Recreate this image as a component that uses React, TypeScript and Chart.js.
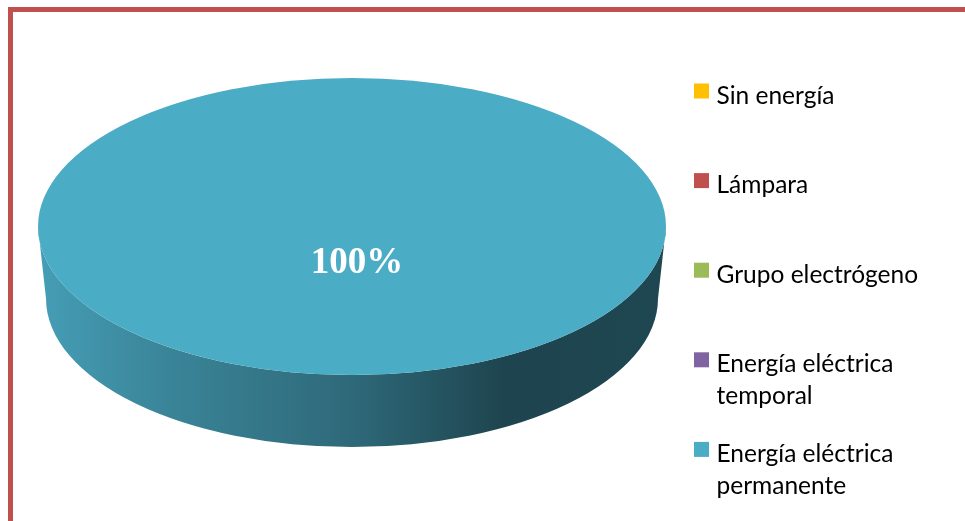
import React, { useEffect, useRef } from "react";
import { Chart, registerables } from "chart.js";

Chart.register(...registerables);

// ---- data ----
const categories = [
  "Sin energía",
  "Lámpara",
  "Grupo electrógeno",
  "Energía eléctrica temporal",
  "Energía eléctrica permanente",
];
const legendLines = [
  ["Sin energía"],
  ["Lámpara"],
  ["Grupo electrógeno"],
  ["Energía eléctrica", "temporal"],
  ["Energía eléctrica", "permanente"],
];
const values = [0, 0, 0, 0, 100];
const sliceColors = ["#FFC000", "#C0504D", "#9BBB59", "#8064A2", "#4BACC6"];

// ---- 3D look (style constants) ----
const STRETCH_X = 314 / 148.5; // horizontal stretch of the top ellipse
const BOTTOM_RX = 306 / 314; // bottom ellipse narrower (perspective)
const DEPTH = 72 / 148.5; // side depth relative to radius
const SIDE_STOPS: [number, number][] = [
  [0, 0.92],
  [0.19, 0.78],
  [0.5, 0.61],
  [0.74, 0.4],
  [1, 0.41],
];

function hexToRgb(hex: string) {
  const h = hex.replace("#", "");
  return [
    parseInt(h.slice(0, 2), 16),
    parseInt(h.slice(2, 4), 16),
    parseInt(h.slice(4, 6), 16),
  ];
}
function shade(hex: string, f: number) {
  const [r, g, b] = hexToRgb(hex);
  return `rgb(${Math.round(r * f)},${Math.round(g * f)},${Math.round(b * f)})`;
}

const pie3d = {
  id: "pie3d",
  beforeDatasetsDraw(chart: any) {
    const meta = chart.getDatasetMeta(0);
    const ctx: CanvasRenderingContext2D = chart.ctx;
    const colors = chart.data.datasets[0].backgroundColor as string[];
    const first = meta.data[0];
    if (!first) return;
    const { x: cx, y: cy, outerRadius: r } = first.getProps(
      ["x", "y", "outerRadius"],
      true
    );
    const rx = r * STRETCH_X;
    const ry = r;
    const rxb = rx * BOTTOM_RX;
    const cyb = cy + r * DEPTH;

    ctx.save();
    meta.data.forEach((arc: any, i: number) => {
      const { startAngle, endAngle } = arc.getProps(
        ["startAngle", "endAngle"],
        true
      );
      if (endAngle - startAngle <= 0) return;
      // intersect with the visible lower half [0, PI] (+ k*2PI)
      for (let k = -2; k <= 2; k++) {
        const lo = k * 2 * Math.PI;
        const a0 = Math.max(startAngle, lo);
        const a1 = Math.min(endAngle, lo + Math.PI);
        if (a1 - a0 <= 0) continue;
        const grad = ctx.createLinearGradient(cx - rx, 0, cx + rx, 0);
        SIDE_STOPS.forEach(([p, f]) => grad.addColorStop(p, shade(colors[i], f)));
        ctx.beginPath();
        ctx.ellipse(cx, cy, rx, ry, 0, a0, a1, false);
        ctx.ellipse(cx, cyb, rxb, ry, 0, a1, a0, true);
        ctx.closePath();
        ctx.fillStyle = grad;
        ctx.fill();
      }
    });
    ctx.restore();

    // stretch the library's circular pie into the top ellipse
    ctx.save();
    ctx.translate(cx, cy);
    ctx.scale(STRETCH_X, 1);
    ctx.translate(-cx, -cy);
  },
  afterDatasetsDraw(chart: any) {
    const ctx: CanvasRenderingContext2D = chart.ctx;
    ctx.restore();
    const meta = chart.getDatasetMeta(0);
    const data = chart.data.datasets[0].data as number[];
    const total = data.reduce((a, b) => a + b, 0);
    ctx.save();
    ctx.fillStyle = "#FFFFFF";
    ctx.font = "bold 37px 'Liberation Serif', 'Times New Roman', serif";
    ctx.textAlign = "center";
    ctx.textBaseline = "alphabetic";
    meta.data.forEach((arc: any, i: number) => {
      if (!data[i]) return;
      const { x, y, startAngle, endAngle, outerRadius } = arc.getProps(
        ["x", "y", "startAngle", "endAngle", "outerRadius"],
        true
      );
      const mid = (startAngle + endAngle) / 2;
      const dist = outerRadius * 0.31;
      const lx = x + Math.cos(mid) * dist * STRETCH_X + 5;
      const ly = y + Math.sin(mid) * dist;
      const pct = Math.round((data[i] / total) * 100) + "%";
      ctx.fillText(pct, lx, ly);
    });
    ctx.restore();
  },
};

const sideLegend = {
  id: "sideLegend",
  afterDraw(chart: any) {
    const ctx: CanvasRenderingContext2D = chart.ctx;
    const colors = chart.data.datasets[0].backgroundColor as string[];
    const boxX = chart.chartArea.right + 28;
    const firstBase = 103.5;
    const step = 89.6;
    const lineH = 32;
    ctx.save();
    ctx.font = "24.5px Lato, 'Noto Sans', sans-serif";
    ctx.textBaseline = "alphabetic";
    ctx.textAlign = "left";
    legendLines.forEach((lines, i) => {
      const base = firstBase + i * step;
      ctx.fillStyle = colors[i];
      ctx.fillRect(boxX, base - 20, 15, 15);
      ctx.fillStyle = "#000000";
      lines.forEach((t, j) => ctx.fillText(t, boxX + 22.5, base + j * lineH));
    });
    ctx.restore();
  },
};

export default function App() {
  const ref = useRef<HTMLCanvasElement | null>(null);

  useEffect(() => {
    if (!ref.current) return;
    const chart = new Chart(ref.current, {
      type: "pie",
      data: {
        labels: categories,
        datasets: [
          {
            data: values,
            backgroundColor: sliceColors,
            borderWidth: 0,
            hoverOffset: 0,
            offset: 0,
            clip: false as any,
          },
        ],
      },
      options: {
        responsive: false,
        animation: false,
        events: [],
        layout: {
          padding: { left: 38, top: 78, right: 299, bottom: 146 },
        },
        plugins: {
          legend: { display: false },
          tooltip: { enabled: false },
        },
      },
      plugins: [pie3d, sideLegend],
    });
    return () => chart.destroy();
  }, []);

  return (
    <div
      style={{
        position: "fixed",
        left: 0,
        top: 0,
        width: 965,
        height: 521,
        overflow: "hidden",
        background: "#FFFFFF",
      }}
    >
      <div
        style={{
          position: "absolute",
          left: 8,
          top: 7,
          width: 965,
          height: 521,
          borderTop: "5px solid #C0504D",
          borderLeft: "5px solid #C0504D",
          boxSizing: "border-box",
        }}
      />
      <canvas
        ref={ref}
        width={965}
        height={521}
        style={{ position: "absolute", left: 0, top: 0, display: "block" }}
      />
    </div>
  );
}
